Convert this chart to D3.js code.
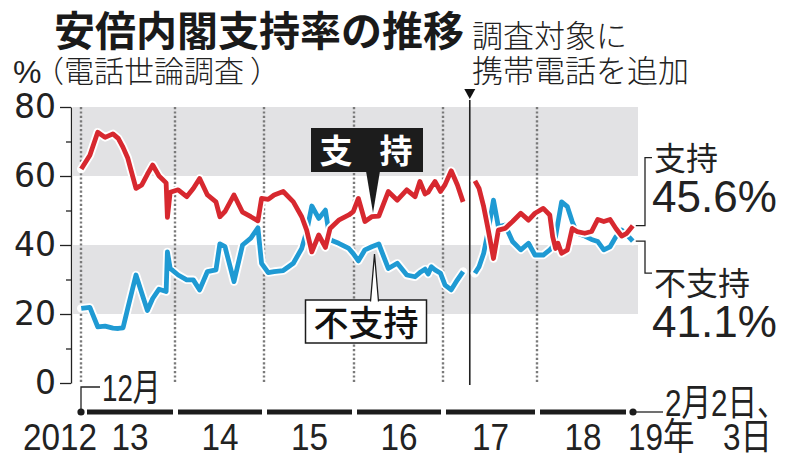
<!DOCTYPE html>
<html><head><meta charset="utf-8">
<script src="https://cdn.jsdelivr.net/npm/d3@7"></script>
<style>
body{margin:0;background:#fff;}
svg{display:block;}
</style></head><body>
<svg id="chart" width="800" height="466"></svg>
<script>
// ---------------- data ----------------
const pollDates = [
"2012-12-27","2013-01-30","2013-03-02","2013-03-31","2013-05-01","2013-05-22","2013-06-10","2013-06-28",
"2013-07-31","2013-08-23","2013-09-14","2013-10-05","2013-10-30","2013-11-27","2013-12-02","2013-12-13",
"2014-01-14","2014-02-18","2014-03-17","2014-04-12","2014-05-14","2014-06-18","2014-07-04","2014-07-25",
"2014-08-31","2014-10-05","2014-11-08","2014-12-07","2014-12-22",
"2015-01-18","2015-02-11","2015-03-20","2015-04-30","2015-06-03","2015-06-23","2015-07-14","2015-08-11",
"2015-09-07","2015-09-26","2015-10-31","2015-12-11","2015-12-29",
"2016-01-19","2016-02-15","2016-03-14","2016-04-12","2016-05-21","2016-06-27","2016-08-05","2016-09-08",
"2016-09-28","2016-10-19","2016-11-01","2016-11-14","2016-11-29","2016-12-22",
"2017-01-09","2017-02-02","2017-02-26","2017-03-20",
"2017-05-05","2017-05-21","2017-06-08","2017-06-26","2017-07-16","2017-08-04","2017-08-30","2017-09-28",
"2017-10-30","2017-11-29","2017-12-24",
"2018-01-27","2018-02-23","2018-03-07","2018-03-19","2018-03-29","2018-04-13","2018-05-07","2018-05-27",
"2018-06-16","2018-07-18","2018-08-15","2018-09-10","2018-10-05","2018-10-31","2018-11-24","2018-12-18",
"2019-01-08","2019-02-02"];
const support = [
62.0,66.0,72.7,71.2,72.2,70.9,68.3,65.3,
56.4,57.4,60.5,63.2,60.0,58.0,48.0,55.3,
56.0,54.0,56.4,59.3,54.5,52.5,48.2,49.7,
54.5,49.5,48.2,47.0,53.5,
53.2,54.5,55.5,52.5,48.2,44.3,38.0,42.9,
39.3,44.8,47.2,48.7,49.7,
53.5,46.8,48.2,48.4,55.5,53.0,56.0,54.0,
58.4,54.8,55.3,56.8,58.4,55.5,
57.5,61.5,57.4,52.5,
58.6,56.4,51.1,44.3,36.1,44.3,44.8,46.8,
49.2,47.2,49.2,
50.6,48.7,42.4,39.0,40.5,37.6,38.6,44.8,
43.9,43.4,43.9,47.4,46.8,47.4,44.8,42.6,
43.4,45.6];
const nonSupport = [
21.6,21.9,16.3,16.5,15.9,15.8,16.0,21.5,
31.3,26.0,21.0,24.5,27.2,26.5,38.0,33.2,
31.3,29.9,29.9,27.0,32.3,32.8,40.3,39.5,
29.4,40.0,42.0,45.0,34.7,
32.0,32.3,32.6,34.7,39.0,43.9,51.3,47.7,
50.1,41.5,40.5,39.0,37.5,
35.4,38.6,39.5,40.3,33.2,34.7,31.3,30.8,
32.0,33.0,31.6,33.7,32.8,31.8,
28.4,27.0,29.9,32.3,
31.8,33.7,37.6,44.3,53.0,45.3,45.8,41.0,
38.6,40.5,37.1,
37.1,38.6,39.5,42.4,46.5,52.5,51.1,46.8,
43.4,42.6,41.6,41.0,38.6,39.5,42.4,44.3,
43.0,41.1];
const yTicks = [0,20,40,60,80];
const yMinorTicks = [10,30,50,70];
const bands = [[20,40],[60,80]];
const yearBreaks = ["2012-12-26","2014-01-01","2015-01-01","2016-01-01","2017-01-01","2018-01-01","2019-02-03"];
const yearLabels = ["2012","13","14","15","16","17","18","19年"];
const phoneChangeDate = "2017-04-15";
const titleText = "安倍内閣支持率の推移";
const subtitlePct = "%";
const subtitleParts = ["（電話世論調査","）"];
const noteLines = ["調査対象に","携帯電話を追加"];
const startLabel = "12月";
const endLabels = ["2月2日、","3日"];
const seriesNames = ["支持","不支持"];
const latestValues = [45.6, 41.1];

// ---------------- setup ----------------
const parse = d3.timeParse("%Y-%m-%d");
const rows = pollDates.map((d,i)=>({date:parse(d), s:support[i], n:nonSupport[i]}));
const breakDates = yearBreaks.map(parse);
const phoneDate = parse(phoneChangeDate);

const x = d3.scaleTime().domain(breakDates).range([81,175,264,354,443,537,633]);
const y = d3.scaleLinear().domain([0,80]).range([383,107]);

const svg = d3.select("#chart");
const CJK = "'Noto Sans CJK JP','Noto Sans CJK SC',sans-serif";
const LAT = "'Liberation Sans',Arial,sans-serif";
const INK = "#222";
const RED = "#d7282f", BLUE = "#1f9ad3";

// bands
svg.append("g").selectAll("rect").data(bands).join("rect")
  .attr("x",73).attr("width",638-73)
  .attr("y",d=>y(d[1])).attr("height",d=>y(d[0])-y(d[1]))
  .attr("fill","#e2e2e4");

// dotted year lines
svg.append("g").selectAll("line").data(breakDates.slice(0,-1)).join("line")
  .attr("x1",d=>x(d)).attr("x2",d=>x(d))
  .attr("y1",y(80)).attr("y2",y(0)+1)
  .attr("stroke","#7a7a7a").attr("stroke-width",2.4).attr("stroke-dasharray","2.2,2.2");

// phone change line + marker
const px = x(phoneDate);
svg.append("line").attr("x1",px).attr("x2",px).attr("y1",y(80)-7).attr("y2",y(0)+2)
  .attr("stroke","#222").attr("stroke-width",1.6);
svg.append("path").attr("d",`M${px-5.5},89 L${px+5.5},89 L${px},99 Z`).attr("fill","#111");

// series lines
const segments = (key)=>[rows.filter(r=>r.date<phoneDate), rows.filter(r=>r.date>phoneDate)].map(seg=>({key,seg}));
const line = key => d3.line().x(d=>x(d.date)).y(d=>y(d[key])).curve(d3.curveLinear);
[["n",BLUE],["s",RED]].forEach(([key,col])=>{
  const g = svg.append("g");
  segments(key).forEach(({seg})=>{
    g.append("path").attr("d",line(key)(seg)).attr("fill","none").attr("stroke","#fff")
      .attr("stroke-width",8.5).attr("stroke-linejoin","round").attr("stroke-linecap","round");
  });
  segments(key).forEach(({seg})=>{
    g.append("path").attr("d",line(key)(seg)).attr("fill","none").attr("stroke",col)
      .attr("stroke-width",4.8).attr("stroke-linejoin","round").attr("stroke-linecap","butt");
  });
});

// y axis
const axG = svg.append("g").attr("transform","translate(71,0)");
axG.call(d3.axisLeft(y).tickValues(yTicks).tickSize(11).tickSizeOuter(0).tickPadding(4).tickFormat(d3.format("d")));
axG.select(".domain").attr("stroke",INK).attr("stroke-width",1.3);
axG.selectAll(".tick line").attr("stroke",INK).attr("stroke-width",1.3);
axG.selectAll(".tick text").attr("font-family","'DejaVu Sans',sans-serif").attr("font-size",33).attr("fill",INK);
const axMinor = svg.append("g").attr("transform","translate(71,0)");
axMinor.call(d3.axisLeft(y).tickValues(yMinorTicks).tickSize(5).tickSizeOuter(0).tickFormat(""));
axMinor.select(".domain").remove();
axMinor.selectAll(".tick line").attr("stroke",INK).attr("stroke-width",1.3);

// annotation boxes
// 支持 (black box)
svg.append("rect").attr("x",311).attr("y",128).attr("width",112).attr("height",44).attr("fill","#1c1c1c");
svg.append("path").attr("d","M366,171 L380,171 L373,213 Z").attr("fill","#1c1c1c");
svg.append("text").attr("x",336).attr("y",163).attr("text-anchor","middle").attr("font-family",CJK)
  .attr("font-weight",700).attr("font-size",33).attr("fill","#fff").text(seriesNames[0][0]);
svg.append("text").attr("x",396).attr("y",163).attr("text-anchor","middle").attr("font-family",CJK)
  .attr("font-weight",700).attr("font-size",33).attr("fill","#fff").text(seriesNames[0][1]);
// 不支持 (white box)
svg.append("rect").attr("x",305.5).attr("y",300).attr("width",121).attr("height",43)
  .attr("fill","#fff").attr("stroke","#1c1c1c").attr("stroke-width",1.5);
svg.append("path").attr("d","M370.5,301.5 L374.5,254 L378.5,301.5").attr("fill","#fff")
  .attr("stroke","#1c1c1c").attr("stroke-width",1.3);
svg.append("text").attr("x",366).attr("y",336).attr("text-anchor","middle").attr("font-family",CJK)
  .attr("font-weight",500).attr("font-size",35).attr("fill","#111").text(seriesNames[1]);

// end brackets
const lastDate = rows[rows.length-1].date;
const ex = x(lastDate)+3;
svg.append("path").attr("d",`M${ex},${y(latestValues[0])} H645 V${y(latestValues[0])-68} H652`)
  .attr("fill","none").attr("stroke",INK).attr("stroke-width",1.3);
svg.append("path").attr("d",`M${ex},${y(latestValues[1])} H645 V${y(latestValues[1])+32} H652`)
  .attr("fill","none").attr("stroke",INK).attr("stroke-width",1.3);
svg.append("text").attr("x",654).attr("y",170).attr("font-family",CJK).attr("font-size",32).attr("fill",INK).text(seriesNames[0]);
svg.append("text").attr("x",652).attr("y",212).attr("font-family",LAT).attr("font-size",44).attr("fill",INK).text(latestValues[0].toFixed(1)+"%");
svg.append("text").attr("x",654).attr("y",295).attr("font-family",CJK).attr("font-size",32).attr("fill",INK).text(seriesNames[1]);
svg.append("text").attr("x",652).attr("y",337).attr("font-family",LAT).attr("font-size",44).attr("fill",INK).text(latestValues[1].toFixed(1)+"%");

// bottom timeline
const TY = 412;
const segs = d3.range(breakDates.length-1).map(i=>[
  x(breakDates[i]) + (i===0?6:3),
  x(breakDates[i+1]) - (i===breakDates.length-2?7:2)]);
svg.append("g").selectAll("line").data(segs).join("line")
  .attr("x1",d=>d[0]).attr("x2",d=>d[1]).attr("y1",TY).attr("y2",TY)
  .attr("stroke","#1c1c1c").attr("stroke-width",5);
svg.append("g").selectAll("circle").data([breakDates[0],breakDates[breakDates.length-1]]).join("circle")
  .attr("cx",d=>x(d)).attr("cy",TY).attr("r",3.6).attr("fill","#1c1c1c");
const x0 = x(breakDates[0]), xEnd = x(breakDates[breakDates.length-1]);
svg.append("path").attr("d",`M${x0},${TY} V387 H${x0+19}`).attr("fill","none").attr("stroke",INK).attr("stroke-width",1.3);
svg.append("line").attr("x1",xEnd).attr("x2",xEnd+30).attr("y1",TY).attr("y2",TY).attr("stroke",INK).attr("stroke-width",1.3);

const condensed = (tx,ty,sx,txt,size,anchor)=>{
  svg.append("text").attr("transform",`translate(${tx},${ty}) scale(${sx},1)`)
    .attr("font-family",LAT+","+CJK).attr("font-size",size).attr("fill",INK)
    .attr("text-anchor",anchor||"start").text(txt);
};
// year labels
const mids = segs.map(s=>(s[0]+s[1])/2);
yearLabels.forEach((lab,i)=>{
  if(i===0) condensed(x0+16,450,0.9,lab,37,"end");
  else if(i===yearLabels.length-1) condensed(xEnd-5,450,0.85,lab,37,"start");
  else condensed(mids[i-1],450,0.9,lab,37,"middle");
});
condensed(x0+21,401,0.75,startLabel,37,"start");
condensed(xEnd+32,416,0.8,endLabels[0],37,"start");
condensed(723,450,0.85,endLabels[1],37,"start");

// titles
svg.append("text").attr("x",54).attr("y",46).attr("font-family",CJK).attr("font-weight",700)
  .attr("font-size",41).attr("fill","#1a1a1a").text(titleText);
svg.append("text").attr("x",13).attr("y",83).attr("font-family",LAT).attr("font-size",32).attr("fill",INK).text(subtitlePct);
const sub = svg.append("text").attr("x",34).attr("y",82).attr("font-family",CJK).attr("font-weight",300)
  .attr("font-size",30).attr("fill",INK);
sub.append("tspan").text(subtitleParts[0]);
sub.append("tspan").attr("dx",6).text(subtitleParts[1]);
noteLines.forEach((t,i)=>{
  svg.append("text").attr("x",472).attr("y",47+i*35).attr("font-family",CJK).attr("font-weight",300)
    .attr("font-size",31).attr("fill",INK).text(t);
});
</script>
</body></html>
